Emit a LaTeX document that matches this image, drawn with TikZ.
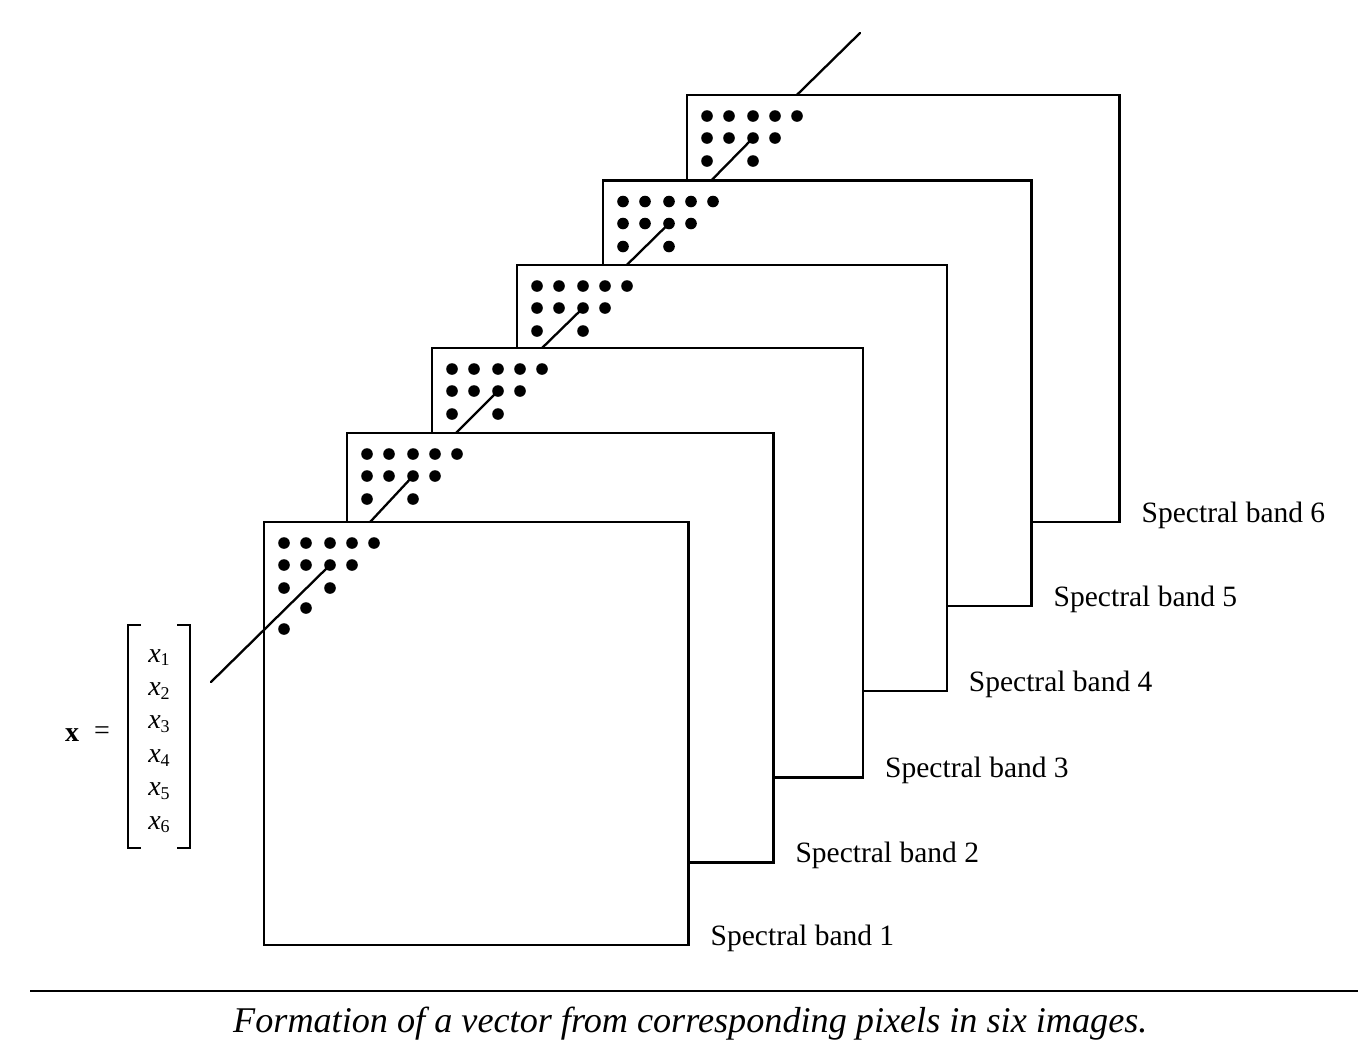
\documentclass[tikz,border=0pt]{standalone}
\usepackage{fontspec}
\setmainfont{Liberation Serif}
\usetikzlibrary{calc}
\begin{document}
\begin{tikzpicture}[x=1pt,y=-1pt,
  band/.style={draw=black, line width=2.4pt, fill=white},
  ray/.style={line width=2.3pt, draw=black, line cap=round},
  lbl/.style={anchor=base west, inner sep=0pt, font=\fontsize{29.5}{35}\selectfont},
  vecent/.style={inner sep=0pt, font=\fontsize{28}{32}\selectfont},
  brack/.style={line width=2.2pt, draw=black},
]
\fill[white] (0,0) rectangle (1358,1045);
\useasboundingbox (0,0) rectangle (1358,1045);

% band corners and pixel positions
\foreach \k/\l/\t/\r/\b in {1/264/522/688.5/945, 2/347/433/773.3/862.5, 3/432/348/863/777.5, 4/517/265/946.7/691, 5/603/180.5/1031.5/606, 6/687/95/1119.5/522}{
  \coordinate (nw\k) at (\l,\t);
  \coordinate (se\k) at (\r,\b);
  \coordinate (p\k) at (\l+66,\t+43);
}
\coordinate (top) at (860,33);
\coordinate (p0) at (211,682);

% ray behind the last band
\draw[ray] (p6) -- (top);

% bands from back to front
\foreach \k/\j in {6/5,5/4,4/3,3/2,2/1,1/0}{
  \draw[band] (nw\k) rectangle (se\k);
  \foreach \dx/\dy in {20/21,42/21,66/21,88/21,110/21,20/43,42/43,66/43,88/43,20/66,66/66}
    \fill ($(nw\k)+(\dx,\dy)$) circle (5.8pt);
  \draw[ray] (p\k) -- (p\j);
  \node[lbl] (lab\k) at ($(se\k)+(22,0)$) {Spectral band \k};
}
\fill ($(nw1)+(42,86)$) circle (5.8pt);
\fill ($(nw1)+(20,107)$) circle (5.8pt);

% vector x
\node[vecent] (xbold) at (72,735) {\textbf{x}};
\node[vecent] (eq) at (102,733) {=};
\draw[brack] (141,625) -- (128,625) -- (128,848) -- (141,848);
\draw[brack] (177,625) -- (190,625) -- (190,848) -- (177,848);
\foreach \i in {1,...,6}{
  \node[vecent, anchor=base] (e\i) at (159, 662+33.4*\i-33.4) {\textit{x}\raisebox{-0.3ex}{\fontsize{18}{18}\selectfont\i}};
}

% rule and caption
\draw[line width=2pt] (30,991) -- (1358,991);
\node[anchor=base west, inner sep=0pt, font=\fontsize{36.2}{40}\selectfont\itshape] (cap) at (233,1032) {Formation of a vector from corresponding pixels in six images.};
\end{tikzpicture}
\end{document}
